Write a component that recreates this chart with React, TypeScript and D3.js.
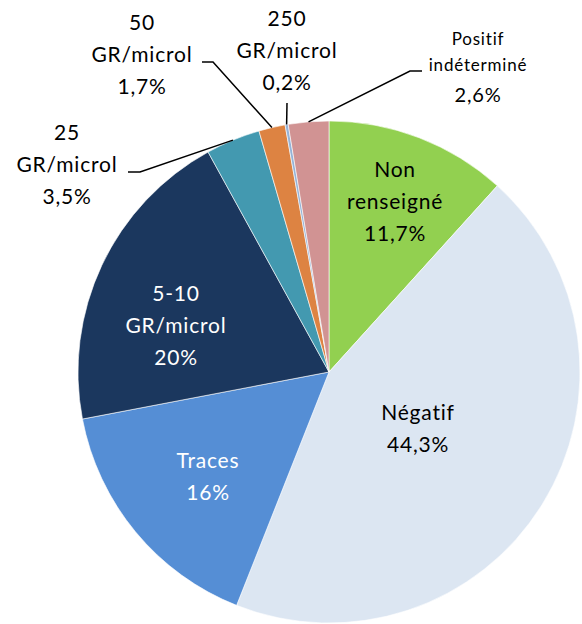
import React from "react";
import { pie, arc } from "d3";

// slices, clockwise from 12 o'clock
const categories = [
  "Non renseigné",
  "Négatif",
  "Traces",
  "5-10 GR/microl",
  "25 GR/microl",
  "50 GR/microl",
  "250 GR/microl",
  "Positif indéterminé",
];
const values = [11.7, 44.3, 16, 20, 3.5, 1.7, 0.2, 2.6];
const valueLabels = ["11,7%", "44,3%", "16%", "20%", "3,5%", "1,7%", "0,2%", "2,6%"];
const labelLines = [
  ["Non", "renseigné", "11,7%"],
  ["Négatif", "44,3%"],
  ["Traces", "16%"],
  ["5-10", "GR/microl", "20%"],
  ["25", "GR/microl", "3,5%"],
  ["50", "GR/microl", "1,7%"],
  ["250", "GR/microl", "0,2%"],
  ["Positif", "indéterminé", "2,6%"],
];
const colors = ["#92d050", "#dce6f2", "#558ed5", "#1b375e", "#4399b0", "#dd8342", "#95b3d7", "#d19393"];

const W = 582;
const H = 624;
const cx = 329;
const cy = 372;
const R = 251;
const FONT = "Lato, 'Open Sans', sans-serif";

// where each label sits (x centre, first baseline), plus leader elbow if outside
const layout: { x: number; y: number; fill: string; size?: number[]; leader?: number[] }[] = [
  { x: 395, y: 177, fill: "#000" },
  { x: 418, y: 420, fill: "#000" },
  { x: 208, y: 468, fill: "#fff" },
  { x: 176, y: 301, fill: "#fff" },
  { x: 67, y: 140, fill: "#000", leader: [128, 172, 140, 172] },
  { x: 142, y: 30, fill: "#000", leader: [202, 62, 213, 62] },
  { x: 287, y: 26, fill: "#000", leader: [287, 103, 287, 103] },
  { x: 478, y: 45, fill: "#000", size: [17, 17, 20], leader: [422, 71, 410, 71] },
];

export default function App() {
  const slices = pie<number>().sort(null).value((d) => d)(values);
  const arcGen = arc<any>().innerRadius(0).outerRadius(R);

  return (
    <svg width={W} height={H} style={{ display: "block", position: "absolute", left: 0, top: 0 }}>
      <rect width={W} height={H} fill="#fff" />
      <g transform={`translate(${cx},${cy})`}>
        {slices.map((s, i) => (
          <path key={categories[i]} d={arcGen(s) || ""} fill={colors[i]} stroke="#fff" strokeWidth={0.6} />
        ))}
      </g>
      {slices.map((s, i) => {
        const L = layout[i];
        if (!L.leader) return null;
        const mid = (s.startAngle + s.endAngle) / 2;
        const ex = cx + R * Math.sin(mid);
        const ey = cy - R * Math.cos(mid);
        const [x1, y1, x2, y2] = L.leader;
        return (
          <polyline
            key={"l" + i}
            points={`${x1},${y1} ${x2},${y2} ${ex},${ey}`}
            fill="none"
            stroke="#000"
            strokeWidth={1.5}
          />
        );
      })}
      {labelLines.map((lines, i) => {
        const L = layout[i];
        let y = L.y;
        return (
          <text key={"t" + i} fill={L.fill} fontFamily={FONT} textAnchor="middle" aria-label={`${categories[i]} ${valueLabels[i]}`}>
            {lines.map((ln, j) => {
              const fs = L.size ? L.size[j] : 21;
              const dy = j === 0 ? 0 : L.size ? (j === 1 ? 26 : 31) : 32;
              y += dy;
              return (
                <tspan key={j} x={L.x} y={y} fontSize={fs} letterSpacing={0.8}>
                  {ln}
                </tspan>
              );
            })}
          </text>
        );
      })}
    </svg>
  );
}
